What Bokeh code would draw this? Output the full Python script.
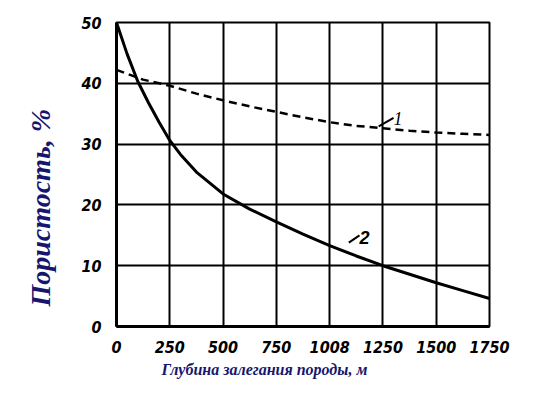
from bokeh.plotting import figure
from bokeh.models import FixedTicker, Range1d, Label, Title
from bokeh.embed import file_html
from bokeh.resources import INLINE

# --- data ---
depth_1 = [0, 125, 250, 375, 500, 625, 750, 875, 1000, 1125, 1250, 1375, 1500, 1625, 1750]
porosity_1 = [42.2, 40.6, 39.6, 38.3, 37.2, 36.2, 35.3, 34.4, 33.6, 33.0, 32.6, 32.2, 31.9, 31.7, 31.5]

depth_2 = [0, 50, 100, 150, 200, 250, 300, 375, 500, 625, 750, 875, 1000, 1125, 1250, 1375, 1500, 1625, 1750]
porosity_2 = [50.0, 44.8, 40.3, 36.8, 33.6, 30.6, 28.3, 25.4, 21.8, 19.3, 17.2, 15.2, 13.3, 11.6, 10.0, 8.6, 7.2, 5.9, 4.6]

x_ticks = [0, 250, 500, 750, 1000, 1250, 1500, 1750]
x_tick_labels = ["0", "250", "500", "750", "1008", "1250", "1500", "1750"]
y_ticks = [0, 10, 20, 30, 40, 50]
y_tick_labels = ["0", "10", "20", "30", "40", "50"]

curve_names = ["1", "2"]

x_label = "Глубина залегания породы, м"
y_label = "Пористость, %"

TITLE_BLUE = "#16166e"

p = figure(width=517, height=380, output_backend="svg", toolbar_location=None,
           x_range=Range1d(0, 1750), y_range=Range1d(0, 50),
           min_border_left=116, min_border_right=28, min_border_top=22, min_border_bottom=54)

p.background_fill_color = "white"
p.border_fill_color = "white"
p.outline_line_color = "black"
p.outline_line_width = 2

for ax in (p.xaxis[0], p.yaxis[0]):
    ax.axis_line_width = 3
    ax.axis_line_color = "black"
    ax.major_tick_line_color = None
    ax.minor_tick_line_color = None
    ax.major_label_text_font = "DejaVu Sans Condensed"
    ax.major_label_text_font_style = "bold italic"
    ax.major_label_text_font_size = "16px"
    ax.major_label_text_color = "black"

p.xaxis.ticker = FixedTicker(ticks=x_ticks)
p.xaxis.major_label_overrides = {t: l for t, l in zip(x_ticks, x_tick_labels)}
p.yaxis.ticker = FixedTicker(ticks=y_ticks)
p.yaxis.major_label_overrides = {t: l for t, l in zip(y_ticks, y_tick_labels)}
p.xaxis.major_label_standoff = 8
p.yaxis.major_label_standoff = 9

p.xgrid.ticker = FixedTicker(ticks=x_ticks)
p.ygrid.ticker = FixedTicker(ticks=y_ticks)
p.grid.grid_line_color = "black"
p.grid.grid_line_width = 2
p.grid.grid_line_alpha = 1.0

p.line(depth_1, porosity_1, line_color="black", line_width=2.5, line_dash="8 5")
p.line(depth_2, porosity_2, line_color="black", line_width=3)

# axis titles placed as in the original scan
p.add_layout(Title(text=x_label, align="left", offset=45, standoff=6,
                   text_font="Liberation Serif", text_font_style="bold italic",
                   text_font_size="16px", text_color=TITLE_BLUE), "below")
p.add_layout(Title(text=y_label, align="left", offset=20, standoff=45,
                   text_font="Liberation Serif", text_font_style="bold italic",
                   text_font_size="28px", text_color=TITLE_BLUE), "left")

# curve labels with leader strokes
p.segment(x0=[1230, 1090], y0=[32.9, 13.8], x1=[1300, 1140], y1=[34.3, 15.0],
          line_color="black", line_width=2)
p.add_layout(Label(x=1300, y=33.2, text=curve_names[0], text_font="Liberation Serif",
                   text_font_style="italic", text_font_size="18px", text_color="black"))
p.add_layout(Label(x=1140, y=13.5, text=curve_names[1], text_font="Liberation Sans",
                   text_font_style="bold italic", text_font_size="18px", text_color="black"))

open("out.html", "w").write(file_html(p, INLINE))
